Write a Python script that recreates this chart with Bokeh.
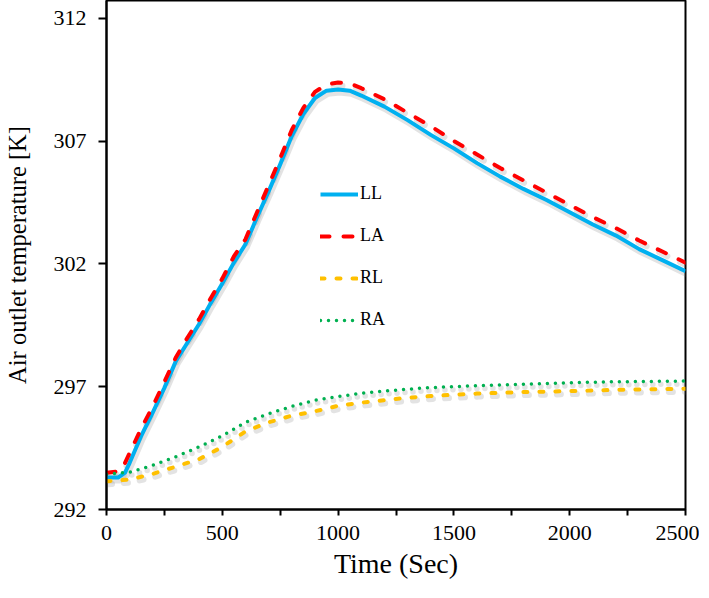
from bokeh.plotting import figure
from bokeh.models import FixedTicker, Range1d, Legend, LegendItem
from bokeh.embed import file_html
from bokeh.resources import INLINE

# ---- data ----
t_ll = [0, 50, 80, 100, 150, 200, 250, 300, 350, 400, 450, 500, 550, 600, 650, 700,
        750, 800, 850, 900, 950, 1000, 1050, 1100, 1200, 1300, 1400, 1500, 1600,
        1700, 1800, 1900, 2000, 2100, 2200, 2300, 2400, 2500]
ll = [293.3, 293.3, 293.5, 293.9, 295.0, 295.95, 296.95, 298.05, 298.8, 299.55, 300.4,
      301.2, 302.05, 302.8, 303.9, 304.95, 306.05, 307.2, 308.1, 308.75, 309.05, 309.1,
      309.05, 308.85, 308.4, 307.85, 307.25, 306.7, 306.1, 305.55, 305.05, 304.6, 304.1,
      303.6, 303.15, 302.6, 302.15, 301.7]

t_la = [0, 50, 70, 100, 150, 200, 250, 300, 350, 400, 450, 500, 550, 600, 650, 700,
        750, 800, 850, 900, 950, 1000, 1050, 1100, 1200, 1300, 1400, 1500, 1600,
        1700, 1800, 1900, 2000, 2100, 2200, 2300, 2400, 2500]
la = [293.5, 293.55, 293.7, 294.3, 295.3, 296.2, 297.2, 298.2, 299.0, 299.75, 300.6,
      301.4, 302.3, 303.0, 304.1, 305.2, 306.3, 307.45, 308.35, 309.0, 309.3, 309.38,
      309.35, 309.15, 308.7, 308.15, 307.6, 307.0, 306.45, 305.9, 305.4, 304.9, 304.4,
      303.9, 303.45, 302.95, 302.5, 302.05]

t_r = [0, 100, 200, 300, 400, 500, 600, 700, 800, 900, 1000, 1100, 1200, 1300, 1400,
       1500, 1600, 1800, 2000, 2200, 2500]
rl = [293.15, 293.22, 293.45, 293.75, 294.05, 294.55, 295.18, 295.55, 295.82, 296.0,
      296.22, 296.35, 296.45, 296.55, 296.62, 296.67, 296.72, 296.78, 296.82, 296.87, 296.92]
ra = [293.43, 293.52, 293.8, 294.15, 294.55, 295.0, 295.55, 295.9, 296.2, 296.45,
      296.6, 296.73, 296.82, 296.9, 296.96, 297.0, 297.04, 297.1, 297.16, 297.2, 297.23]

x_ticks = [0, 500, 1000, 1500, 2000, 2500]
x_minor = [250, 750, 1250, 1750, 2250]
y_ticks = [292, 297, 302, 307, 312]

FONT = "Liberation Serif"
Y0, Y1 = 292, 312.72

p = figure(frame_width=579, frame_height=509, output_backend="svg", toolbar_location=None,
           min_border_left=100, min_border_right=14, min_border_top=0, min_border_bottom=72,
           x_range=Range1d(0, 2500), y_range=Range1d(Y0, Y1))

# ranges shifted by a few pixels, used only to draw the soft drop shadow under each line
dy = 3.0 * (Y1 - Y0) / 509
dx = 1.5 * 2500 / 579
p.extra_x_ranges = {"sh": Range1d(0 - dx, 2500 - dx)}
p.extra_y_ranges = {"sh": Range1d(Y0 + dy, Y1 + dy)}

p.xgrid.visible = False
p.ygrid.visible = False
p.outline_line_color = "black"
p.outline_line_width = 2
p.background_fill_color = "white"
p.border_fill_color = "white"

for ax in (p.xaxis[0], p.yaxis[0]):
    ax.axis_line_color = "black"
    ax.axis_line_width = 2
    ax.major_tick_line_color = "black"
    ax.major_tick_line_width = 2
    ax.minor_tick_line_color = "black"
    ax.minor_tick_line_width = 2
    ax.major_tick_in = 0
    ax.minor_tick_in = 0
    ax.major_label_text_font = FONT
    ax.major_label_text_font_size = "22px"
    ax.major_label_text_color = "black"
    ax.axis_label_text_font = FONT
    ax.axis_label_text_font_style = "normal"
    ax.axis_label_text_color = "black"

p.xaxis.axis_label_text_font_size = "28px"
p.yaxis.axis_label_text_font_size = "24.5px"
p.xaxis.ticker = FixedTicker(ticks=x_ticks, minor_ticks=x_minor)
p.yaxis.ticker = FixedTicker(ticks=y_ticks, minor_ticks=[])
p.xaxis.major_tick_out = 6
p.xaxis.minor_tick_out = 6
p.yaxis.major_tick_out = 8
p.yaxis.minor_tick_out = 0
p.xaxis.major_label_standoff = 10
p.yaxis.major_label_standoff = 12
p.xaxis.axis_label = "Time (Sec)"
p.yaxis.axis_label = "Air outlet temperature [K]"
p.xaxis.axis_label_standoff = 5
p.yaxis.axis_label_standoff = 20

styles = [
    (t_ll, ll, "#00B0F0", 4, "solid"),
    (t_la, la, "#FF0000", 4, "9 14"),
    (t_r, rl, "#FFC000", 4, "4 12"),
    (t_r, ra, "#00B050", 3.5, "0 8"),
]

# shadows first
for xs, ys, col, w, dash in styles:
    p.line(xs, ys, line_color="#808080", line_alpha=0.22, line_width=w + 2,
           line_dash=dash, line_cap="round", line_join="round",
           x_range_name="sh", y_range_name="sh")

renderers = []
for xs, ys, col, w, dash in styles:
    r = p.line(xs, ys, line_color=col, line_width=w, line_dash=dash,
               line_cap="round" if dash != "solid" else "butt", line_join="round")
    renderers.append(r)

legend = Legend(items=[LegendItem(label="LL", renderers=[renderers[0]]),
                       LegendItem(label="LA", renderers=[renderers[1]]),
                       LegendItem(label="RL", renderers=[renderers[2]]),
                       LegendItem(label="RA", renderers=[renderers[3]])],
                location=(214, 179))
legend.background_fill_alpha = 0
legend.border_line_color = None
legend.padding = 0
legend.margin = 0
legend.spacing = 21
legend.glyph_width = 38
legend.glyph_height = 20
legend.label_height = 20
legend.label_standoff = 2
legend.label_text_font = FONT
legend.label_text_font_size = "18px"
legend.label_text_color = "black"
p.add_layout(legend, "center")

open("out.html", "w").write(file_html(p, INLINE))
